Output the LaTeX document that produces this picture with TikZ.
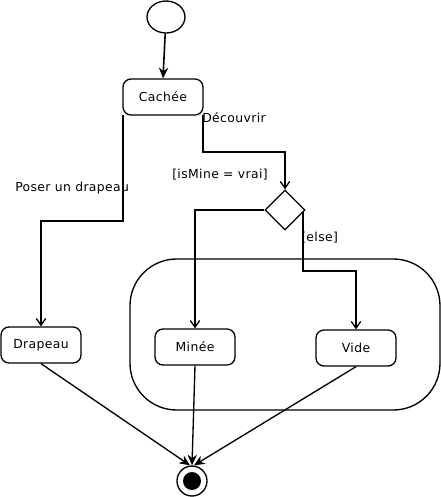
\documentclass[tikz,border=0pt]{standalone}
\usepackage{fontspec}
\setmainfont{DejaVu Sans}[LetterSpace=3]
\usetikzlibrary{shapes.geometric,arrows.meta}
\begin{document}
\begin{tikzpicture}[x=0.75pt,y=-0.75pt,
  every node/.style={font=\fontsize{9.3}{11}\selectfont},
  state/.style={draw,line width=1pt,rounded corners=6pt,minimum width=60pt,minimum height=27pt,inner sep=0pt},
  flow/.style={line width=1pt,-{Straight Barb[length=5pt,width=7pt]}},
  end/.style={line width=1pt,-{Stealth[length=8pt,width=7pt]}},
  lbl/.style={inner sep=0pt,anchor=west}]
\useasboundingbox (0,0) rectangle (441,497);
% container
\draw[line width=1pt,rounded corners=35pt] (130,259) rectangle (440,410);
% initial
\node[draw,line width=1pt,ellipse,minimum width=28.5pt,minimum height=24pt,inner sep=0pt] (init) at (166,17) {};
\node[state] (cachee) at (163,97) {Cachée};
\node[draw,line width=1pt,diamond,minimum width=30pt,minimum height=30pt,inner sep=0pt] (dec) at (285,210) {};
\node[state] (drapeau) at (41,345) {Drapeau};
\node[state] (minee) at (195,347) {Minée};
\node[state] (vide) at (356,348) {Vide};
\node[draw,line width=1pt,circle,minimum size=22.5pt,inner sep=0pt] (fin) at (192,481) {};
\node[fill,circle,minimum size=13.5pt,inner sep=0pt] (fininner) at (fin) {};
% labels
\node[lbl] (ldec) at (202,118) {Découvrir};
\node[lbl] (lmine) at (172,175) {[isMine = vrai]};
\node[lbl] (lelse) at (301,238) {[else]};
\node[lbl] (lposer) at (15,188) {Poser un drapeau};
% connectors
\draw[end,line width=1.2pt] (init) -- (cachee.north);
\coordinate (c1) at (203,115);
\draw[flow] (c1) -- (203,152) -- (285,152) -- (dec.north);
\draw[flow] (dec.west) -- (195,210) -- (minee.north);
\coordinate (c2) at (303,212);
\draw[flow] (c2) -- (303,271) -- (356,271) -- (vide.north);
\coordinate (c3) at (123,115);
\draw[flow] (c3) -- (123,221) -- (41,221) -- (drapeau.north);
\draw[end] (drapeau.south) -- ([xshift=-1.5pt]fin.north);
\draw[end] (minee.south) -- (fin.north);
\draw[end] (vide.south) -- ([xshift=1.5pt]fin.north);
\end{tikzpicture}
\end{document}
